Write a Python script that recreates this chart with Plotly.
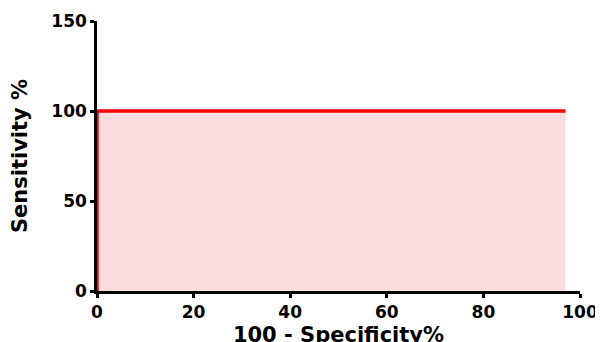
import plotly.graph_objects as go

spec_x = [0, 0, 97]
sens_y = [0, 100, 100]
x_ticks = [0, 20, 40, 60, 80, 100]
y_ticks = [0, 50, 100, 150]

fig = go.Figure()
fig.add_trace(go.Scatter(
    x=spec_x, y=sens_y, mode="lines",
    line=dict(color="#ff0000", width=3.5),
    fill="tozeroy", fillcolor="rgba(250,120,130,0.25)",
    cliponaxis=False, showlegend=False,
))

fam = "DejaVu Sans, sans-serif"
font = dict(family=fam, color="black", size=17, weight="bold")
tfont = dict(family=fam, color="black", size=21, weight="bold")
# page body has an 8px default margin; margins compensate so the plot area lands in place
fig.update_layout(
    width=603, height=342,
    margin=dict(l=89, r=31, t=13, b=59),
    plot_bgcolor="white", paper_bgcolor="white",
    font=font,
)
fig.update_xaxes(
    range=[0, 100], tickvals=x_ticks, showgrid=False, zeroline=False,
    showline=True, linecolor="black", linewidth=2.5,
    ticks="outside", ticklen=4, tickwidth=2.5, tickcolor="black",
    tickfont=font, layer="below traces", automargin=False,
    title=dict(text="100 - Specificity%", font=tfont, standoff=7),
)
fig.update_yaxes(
    range=[0, 150], tickvals=y_ticks, showgrid=False, zeroline=False,
    showline=True, linecolor="black", linewidth=2.5,
    ticks="outside", ticklen=4, tickwidth=2.5, tickcolor="black",
    tickfont=font, layer="below traces", automargin=False,
    title=dict(text="Sensitivity %", font=tfont, standoff=18),
)
fig.write_html("out.html")
